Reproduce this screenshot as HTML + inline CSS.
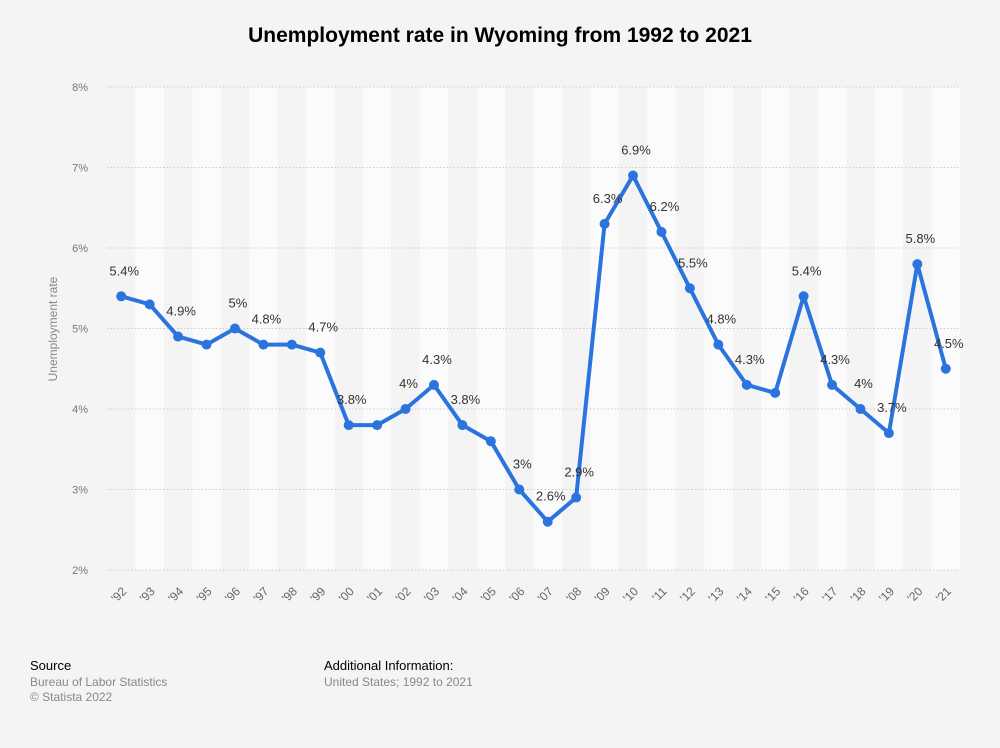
<!DOCTYPE html>
<html><head><meta charset="utf-8"><style>
body{margin:0;background:#f4f4f4;font-family:"Liberation Sans",sans-serif;}
</style></head><body>
<svg width="1000" height="743" xmlns="http://www.w3.org/2000/svg" font-family="Liberation Sans, sans-serif">
<rect width="1000" height="743" fill="#f4f4f4"/>
<text x="500" y="42" text-anchor="middle" font-size="21" font-weight="bold" fill="#000">Unemployment rate in Wyoming from 1992 to 2021</text>
<g id="bands"></g>
<g id="grid"></g>
<text transform="translate(57,329) rotate(-90)" text-anchor="middle" font-size="12" fill="#888">Unemployment rate</text>
<g id="series"></g>
<text x="30" y="670" font-size="13" fill="#000">Source</text>
<text x="30" y="686" font-size="12" fill="#888">Bureau of Labor Statistics</text>
<text x="30" y="701" font-size="12" fill="#888">© Statista 2022</text>
<text x="324" y="670" font-size="13" fill="#000">Additional Information:</text>
<text x="324" y="686" font-size="12" fill="#888">United States; 1992 to 2021</text>
</svg>
<script>
const NS="http://www.w3.org/2000/svg";
function el(p,t,a,txt){const e=document.createElementNS(NS,t);for(const k in a)e.setAttribute(k,a[k]);if(txt!=null)e.textContent=txt;document.getElementById(p).appendChild(e);return e;}
const d=[5.4,5.3,4.9,4.8,5.0,4.8,4.8,4.7,3.8,3.8,4.0,4.3,3.8,3.6,3.0,2.6,2.9,6.3,6.9,6.2,5.5,4.8,4.3,4.2,5.4,4.3,4.0,3.7,5.8,4.5];
const show=[1,0,1,0,1,1,0,1,1,0,1,1,1,0,1,1,1,1,1,1,1,1,1,0,1,1,1,1,1,1];
const bw=853/30, x0=107;
const X=i=>x0+bw*(i+0.5), Y=v=>570-(v-2)*80.5;
for(let i=1;i<30;i+=2)el('bands','rect',{x:x0+bw*i,y:87,width:bw,height:483,fill:'#fbfbfb'});
for(let v=2;v<=8;v++){const y=Y(v);el('grid','line',{x1:107,x2:960,y1:y,y2:y,stroke:'#ccc','stroke-dasharray':'1.5,2'});el('grid','text',{x:88,y:y+4,'text-anchor':'end','font-size':'11',fill:'#777'},v+'%');}
for(let i=0;i<30;i++){const yr=String((92+i)%100).padStart(2,'0');el('grid','text',{transform:`translate(${X(i)+6},${592}) rotate(-45)`,'text-anchor':'end','font-size':'12',fill:'#666'},"'"+yr);}
el('series','polyline',{points:d.map((v,i)=>X(i)+','+Y(v)).join(' '),fill:'none',stroke:'#2b74de','stroke-width':'4','stroke-linejoin':'round'});
d.forEach((v,i)=>{el('series','circle',{cx:X(i),cy:Y(v),r:5,fill:'#2b74de'});if(show[i])el('series','text',{x:X(i)+3,y:Y(v)-21,'text-anchor':'middle','font-size':'13',fill:'#333'},(Number.isInteger(v)?v:v.toFixed(1))+'%');});
</script>
</body></html>
